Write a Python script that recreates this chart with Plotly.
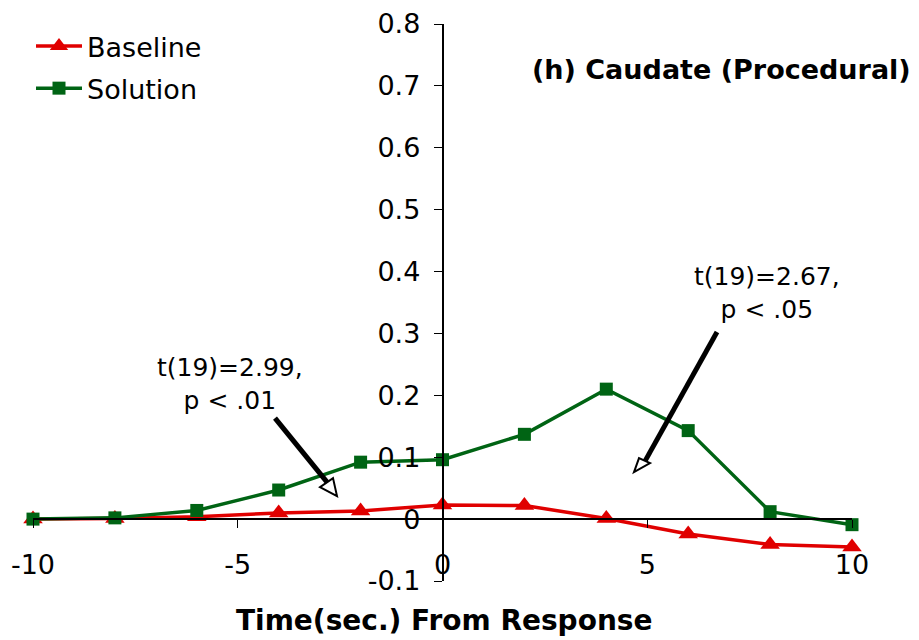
import plotly.graph_objects as go

time_s = [-10, -8, -6, -4, -2, 0, 2, 4, 6, 8, 10]
baseline = [0.0, 0.001, 0.004, 0.010, 0.013, 0.023, 0.022, 0.001, -0.024, -0.041, -0.045]
solution = [0.0, 0.002, 0.014, 0.047, 0.092, 0.096, 0.137, 0.210, 0.143, 0.012, -0.009]
y_ticks = [-0.1, 0, 0.1, 0.2, 0.3, 0.4, 0.5, 0.6, 0.7, 0.8]
y_tick_text = ["-0.1", "0", "0.1", "0.2", "0.3", "0.4", "0.5", "0.6", "0.7", "0.8"]
x_ticks = [-10, -5, 0, 5, 10]
x_tick_text = ["-10", "-5", "0", "5", "10"]

RED = "#e00000"
GREEN = "#006414"
FONT = "DejaVu Sans"

fig = go.Figure()
fig.add_trace(go.Scatter(x=time_s, y=baseline, name="Baseline", mode="lines+markers",
                         legendgroup="b",
                         line=dict(color=RED, width=3.5),
                         marker=dict(symbol="triangle-up", size=17, color=RED),
                         cliponaxis=False))
fig.add_trace(go.Scatter(x=time_s, y=solution, name="Solution", mode="lines+markers",
                         legendgroup="s",
                         line=dict(color=GREEN, width=3.5),
                         marker=dict(symbol="square", size=13, color=GREEN),
                         cliponaxis=False))

fig.update_layout(
    width=919, height=640,
    margin=dict(l=33, r=67, t=24, b=59, autoexpand=False),
    plot_bgcolor="white", paper_bgcolor="white",
    font=dict(family=FONT, size=26, color="black"),
    showlegend=True,
    legend=dict(x=31 / 919, y=1 - 22 / 640, xref="container", yref="container",
                xanchor="left", yanchor="top",
                bgcolor="rgba(0,0,0,0)", font=dict(size=27), itemwidth=46,
                traceorder="grouped", tracegroupgap=4),
    xaxis=dict(range=[-10, 10], anchor="free", position=0.1111,
               showline=True, linecolor="black", linewidth=1.5,
               ticks="outside", ticklen=8, tickcolor="black", tickwidth=1,
               tickvals=x_ticks, ticktext=x_tick_text, showgrid=False, zeroline=False,
               ticklabelstandoff=14, tickfont=dict(size=27)),
    yaxis=dict(range=[-0.1, 0.8], anchor="free", position=0.5,
               showline=True, linecolor="black", linewidth=1.5,
               ticks="outside", ticklen=8, tickcolor="black", tickwidth=1,
               tickvals=y_ticks, ticktext=y_tick_text, showgrid=False, zeroline=False,
               ticklabelstandoff=8, tickfont=dict(size=27)),
)

def px2d(px, py):
    return ((px - 442.5) / 40.95, (519 - py) / 618.75)

# axis title and panel title
fig.add_annotation(text="<b>Time(sec.) From Response</b>", xref="paper", yref="paper",
                   x=(444 - 33) / 819, y=(581 - 620) / 557, xanchor="center", yanchor="middle",
                   showarrow=False, font=dict(size=28))
fig.add_annotation(text="<b>(h) Caudate (Procedural)</b>", xref="paper", yref="paper",
                   x=(913 - 33) / 819, y=(581 - 70) / 557, xanchor="right", yanchor="middle",
                   showarrow=False, font=dict(size=27))

# stats annotations
for cx, cy, txt in [(230, 384, "t(19)=2.99,<br>p < .01"), (767, 293, "t(19)=2.67,<br>p < .05")]:
    x, y = px2d(cx, cy)
    fig.add_annotation(text=txt, x=x, y=y, xref="x", yref="y", showarrow=False,
                       font=dict(size=25), align="center")

# arrows: line + open triangle head
arrows = [
    ((275, 418), (327, 482), [(337, 496), (320, 487), (333, 478)]),
    ((717, 332), (645, 461), [(634, 472), (639, 458), (650, 463)]),
]
for (s, e, tri) in arrows:
    x0, y0 = px2d(*s)
    x1, y1 = px2d(*e)
    fig.add_shape(type="line", x0=x0, y0=y0, x1=x1, y1=y1, xref="x", yref="y",
                  line=dict(color="black", width=5))
    pts = [px2d(*p) for p in tri]
    path = "M {} {} L {} {} L {} {} Z".format(pts[0][0], pts[0][1], pts[1][0], pts[1][1], pts[2][0], pts[2][1])
    fig.add_shape(type="path", path=path, xref="x", yref="y",
                  fillcolor="white", line=dict(color="black", width=2))

fig.write_html("out.html")
